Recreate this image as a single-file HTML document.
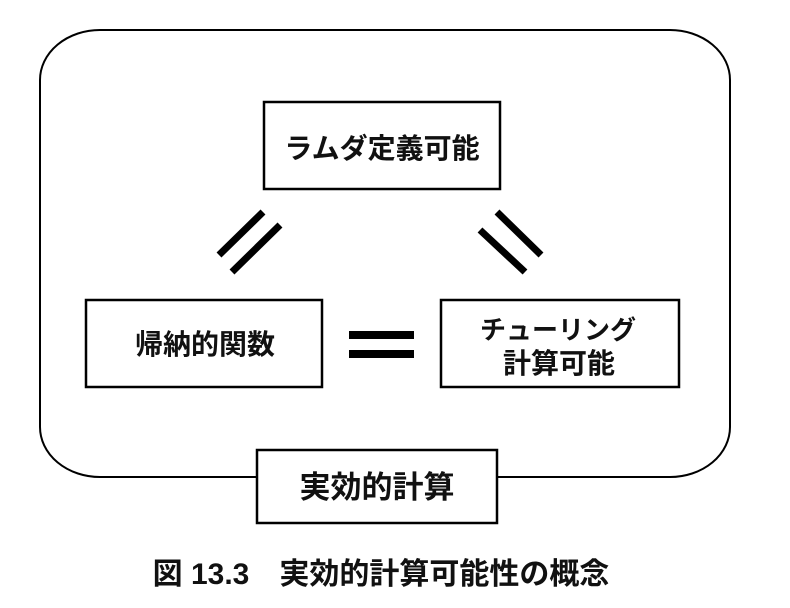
<!DOCTYPE html>
<html><head><meta charset="utf-8"><style>
html,body{margin:0;padding:0;background:#fff;}
body{width:790px;height:608px;position:relative;overflow:hidden;font-family:"Liberation Sans","Noto Sans CJK JP",sans-serif;}
</style></head><body>
<svg width="790" height="608" xmlns="http://www.w3.org/2000/svg" style="position:absolute;left:0;top:0">
<rect x="40" y="30" width="690" height="447" rx="60" ry="50" fill="none" stroke="#000" stroke-width="2"/>
<rect x="264" y="102" width="236" height="87" fill="#fff" stroke="#000" stroke-width="2.5"/>
<rect x="86" y="300" width="236" height="87" fill="#fff" stroke="#000" stroke-width="2.5"/>
<rect x="441" y="300" width="238" height="87" fill="#fff" stroke="#000" stroke-width="2.5"/>
<rect x="257" y="450" width="240" height="73" fill="#fff" stroke="#000" stroke-width="2.5"/>
<rect x="349" y="331" width="65" height="8" fill="#000"/>
<rect x="349" y="350" width="65" height="8" fill="#000"/>
<line x1="219" y1="255" x2="263" y2="212" stroke="#000" stroke-width="7"/>
<line x1="232" y1="272" x2="280" y2="225" stroke="#000" stroke-width="7"/>
<line x1="480" y1="230" x2="525" y2="272" stroke="#000" stroke-width="7"/>
<line x1="497" y1="212" x2="541" y2="255" stroke="#000" stroke-width="7"/>
<g font-family="Liberation Sans, Noto Sans CJK JP, sans-serif" font-weight="bold" text-anchor="middle" fill="#111">
<text x="382" y="158" font-size="28">ラムダ定義可能</text>
<text x="205" y="354" font-size="28">帰納的関数</text>
<text x="558" y="339" font-size="26">チューリング</text>
<text x="559" y="373" font-size="28">計算可能</text>
<text x="377" y="498" font-size="31">実効的計算</text>
<text x="381" y="584" font-size="30">図 13.3　実効的計算可能性の概念</text>
</g>
</svg>
</body></html>
